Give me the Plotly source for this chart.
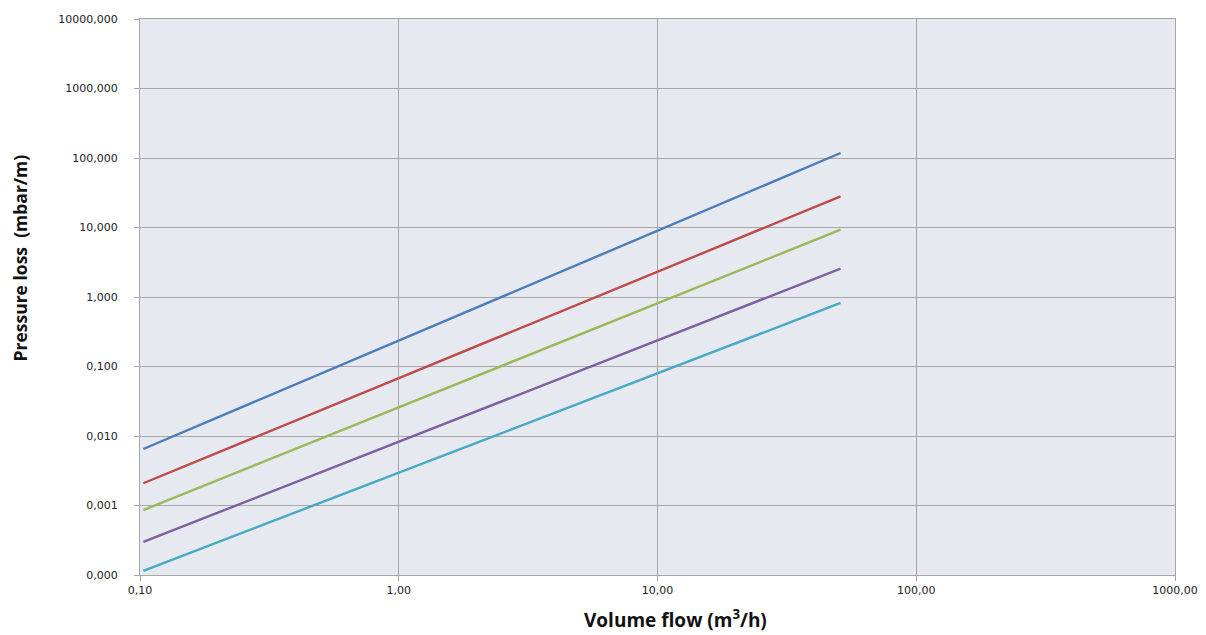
import plotly.graph_objects as go

x_vals = [0.103, 51.0]
series_names = ["Series 1", "Series 2", "Series 3", "Series 4", "Series 5"]
series_values = [
    [0.0065, 118.0],
    [0.00209, 28.0],
    [0.00086, 9.3],
    [0.00030, 2.56],
    [0.000115, 0.82],
]
colors = ["#4A7EBB", "#BE4B48", "#98B954", "#7D60A0", "#46AAC5"]

x_tickvals = [0.1, 1, 10, 100, 1000]
x_ticktext = ["0,10", "1,00", "10,00", "100,00", "1000,00"]
y_tickvals = [0.0001, 0.001, 0.01, 0.1, 1, 10, 100, 1000, 10000]
y_ticktext = ["0,000", "0,001", "0,010", "0,100", "1,000", "10,000", "100,000", "1000,000", "10000,000"]
x_title = "Volume flow (m<sup>3</sup>/h)"
y_title = "Pressure loss  (mbar/m)"

fig = go.Figure()
for name, vals, c in zip(series_names, series_values, colors):
    fig.add_trace(go.Scatter(x=x_vals, y=vals, mode="lines", name=name,
                             line=dict(color=c, width=2.4)))

axis_common = dict(showgrid=True, gridcolor="#A6A6A6", gridwidth=1,
                   showline=True, linecolor="#A6A6A6", linewidth=1, mirror=True,
                   ticks="outside", ticklen=5, tickcolor="#A6A6A6",
                   tickfont=dict(family="DejaVu Sans", size=11, color="#222222"),
                   zeroline=False)

fig.update_layout(
    width=1198, height=627,
    margin=dict(l=132, r=31, t=11, b=60, autoexpand=False),
    paper_bgcolor="white", plot_bgcolor="#E6E9F0",
    showlegend=False,
    xaxis=dict(type="log", range=[-1, 3], tickvals=x_tickvals, ticktext=x_ticktext,
               **axis_common),
    yaxis=dict(type="log", range=[-4, 4], tickvals=y_tickvals, ticktext=y_ticktext,
               ticklabelstandoff=14, **axis_common),
    annotations=[
        dict(text=x_title, xref="paper", yref="paper", x=0.517, y=-0.079,
             xanchor="center", yanchor="middle", showarrow=False,
             font=dict(family="Open Sans", size=19, color="#111111", weight="bold")),
        dict(text=y_title, xref="paper", yref="paper", x=-0.1155, y=0.570,
             xanchor="center", yanchor="middle", showarrow=False, textangle=-90,
             font=dict(family="Open Sans", size=17.5, color="#111111", weight="bold")),
    ],
)

fig.write_html("out.html")
